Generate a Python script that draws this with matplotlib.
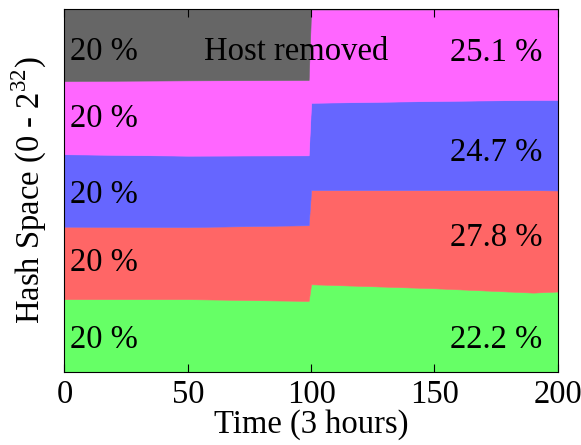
import matplotlib
matplotlib.use("Agg")
import matplotlib.pyplot as plt

plt.rcParams["font.family"] = ["Liberation Serif", "DejaVu Serif"]
plt.rcParams["mathtext.fontset"] = "custom"
plt.rcParams["mathtext.rm"] = "Liberation Serif"

# share of hash space held by each host over time
time = [0, 50, 99, 100, 150, 190, 200]
green = [0.200, 0.200, 0.195, 0.241, 0.230, 0.218, 0.221]
red = [0.200, 0.199, 0.209, 0.260, 0.271, 0.283, 0.279]
blue = [0.200, 0.197, 0.193, 0.241, 0.246, 0.249, 0.250]
magenta = [0.202, 0.208, 0.208, 0.258, 0.253, 0.250, 0.250]
gray = [0.198, 0.196, 0.195, 0.0, 0.0, 0.0, 0.0]

colors = ["#66ff66", "#ff6666", "#6666ff", "#ff66ff", "#666666"]

left_labels = ["20 %", "20 %", "20 %", "20 %", "20 %"]
left_y = [0.089, 0.300, 0.489, 0.697, 0.884]
right_labels = ["22.2 %", "27.8 %", "24.7 %", "25.1 %"]
right_y = [0.089, 0.370, 0.605, 0.880]

fs = 23.5

fig = plt.figure(figsize=(5.81, 4.45), dpi=100)
ax = fig.add_axes([0.111, 0.165, 0.849, 0.814])

ax.stackplot(time, green, red, blue, magenta, gray,
             colors=colors, linewidth=0.4, edgecolor="face")

for lab, y in zip(left_labels, left_y):
    ax.text(2.3, y, lab, fontsize=fs, va="center", ha="left")
for lab, y in zip(right_labels, right_y):
    ax.text(193.7, y, lab, fontsize=fs, va="center", ha="right")
ax.text(94, 0.884, "Host removed", fontsize=fs, va="center", ha="center")

ax.set_xlim(0, 200)
ax.set_ylim(0, 1)
ax.set_xticks([0, 50, 100, 150, 200])
ax.set_yticks([])
ax.tick_params(axis="x", direction="in", top=True, length=6, labelsize=fs, pad=6)
ax.set_xlabel("Time (3 hours)", fontsize=fs, labelpad=-1)
ax.set_ylabel("Hash Space (0 - 2$^{32}$)", fontsize=fs, labelpad=11)

fig.savefig("out.png", dpi=100)
